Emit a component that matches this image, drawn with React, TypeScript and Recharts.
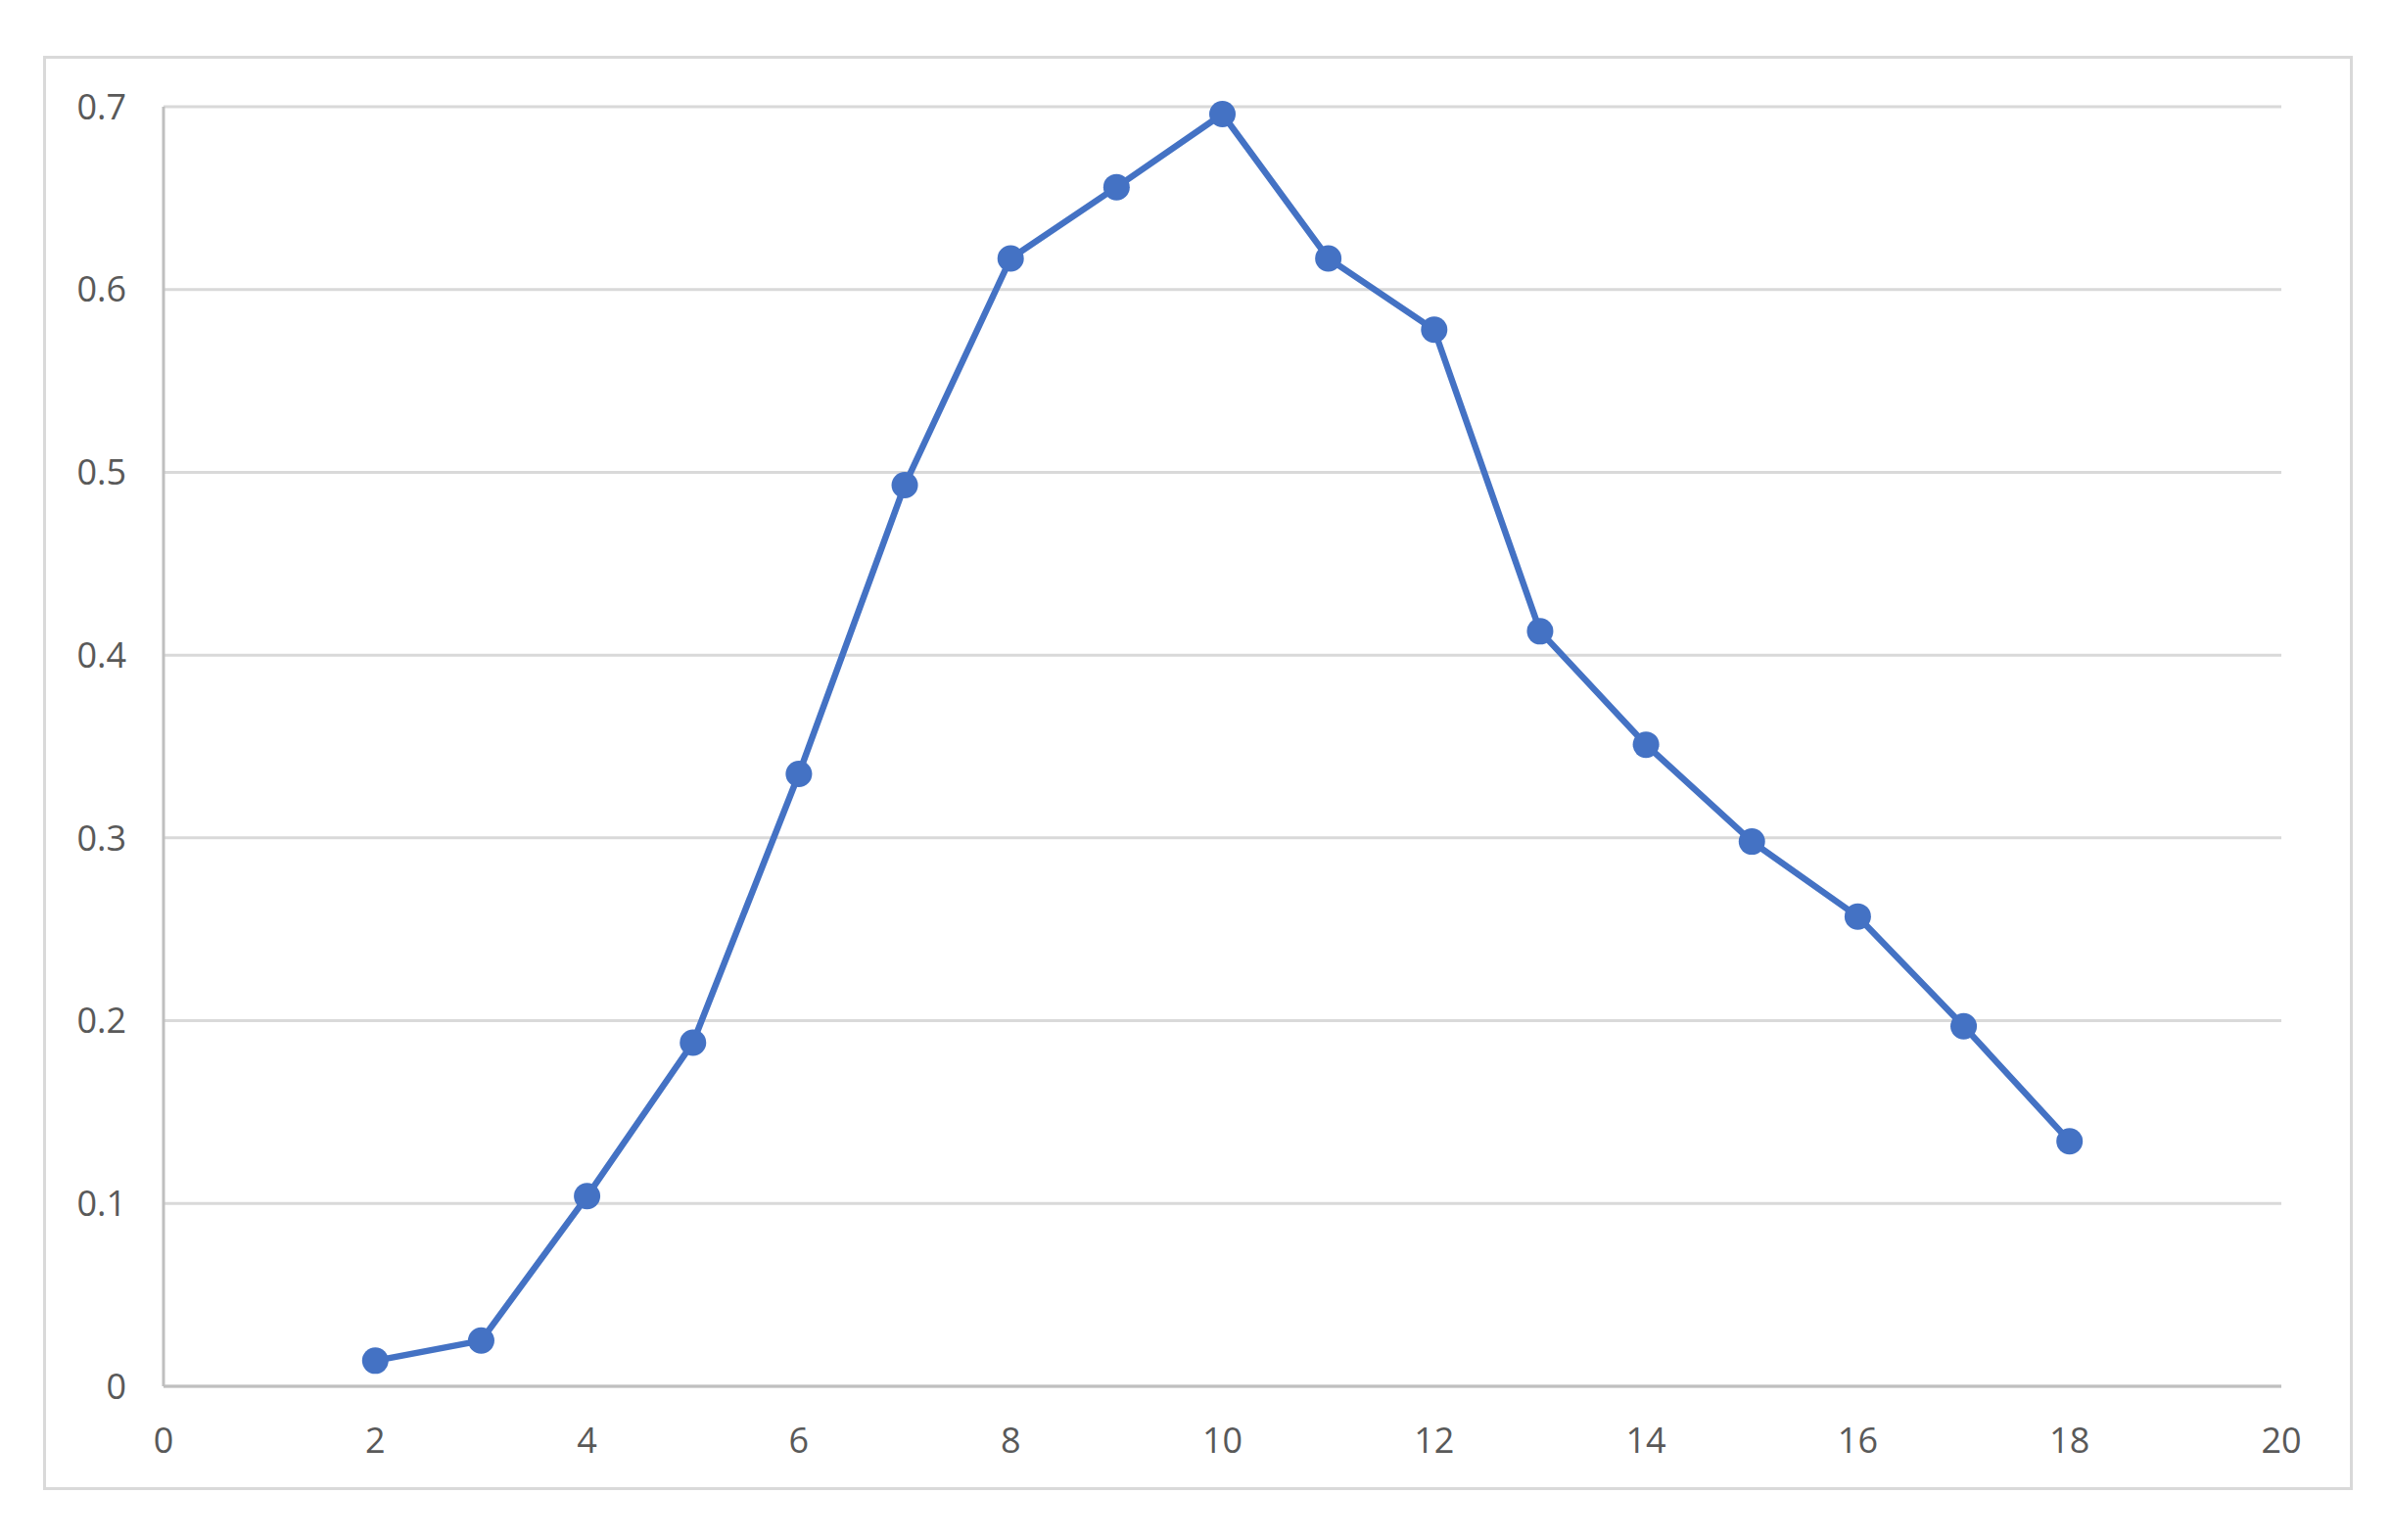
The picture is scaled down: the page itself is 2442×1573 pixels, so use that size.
import { LineChart, Line, XAxis, YAxis, CartesianGrid } from 'recharts';

// x values and the measured series
const xValues = [2, 3, 4, 5, 6, 7, 8, 9, 10, 11, 12, 13, 14, 15, 16, 17, 18];
const yValues = [
  0.014, 0.025, 0.104, 0.188, 0.335, 0.493, 0.617, 0.656, 0.696, 0.617, 0.578, 0.413, 0.351, 0.298,
  0.257, 0.197, 0.134,
];

const xTicks = [0, 2, 4, 6, 8, 10, 12, 14, 16, 18, 20];
const yTicks = [0, 0.1, 0.2, 0.3, 0.4, 0.5, 0.6, 0.7];

const data = xValues.map((x, i) => ({ x, y: yValues[i] }));

const BLUE = '#4472C4';
const tickStyle = { fontSize: 36, fill: '#595959', fontFamily: '"Open Sans", sans-serif' };

export default function App() {
  return (
    <div
      style={{
        position: 'absolute',
        left: 0,
        top: 0,
        width: 2442,
        height: 1573,
        background: '#fff',
      }}
    >
      {/* chart frame */}
      <div
        style={{
          position: 'absolute',
          left: 44,
          top: 57,
          width: 2359,
          height: 1465,
          border: '3px solid #d9d9d9',
          boxSizing: 'border-box',
        }}
      />
      <div style={{ position: 'absolute', left: 0, top: 0 }}>
        <LineChart
          width={2442}
          height={1573}
          data={data}
          margin={{ top: 109, right: 112, left: 47, bottom: 97 }}
        >
          <CartesianGrid vertical={false} stroke="#d9d9d9" strokeWidth={3} />
          <XAxis
            dataKey="x"
            type="number"
            domain={[0, 20]}
            ticks={xTicks}
            height={60}
            tickLine={false}
            tickSize={0}
            tickMargin={42}
            axisLine={{ stroke: '#bfbfbf', strokeWidth: 3 }}
            tick={tickStyle}
            interval={0}
          />
          <YAxis
            type="number"
            domain={[0, 0.7]}
            ticks={yTicks}
            width={120}
            tickLine={false}
            tickSize={0}
            tickMargin={38}
            axisLine={{ stroke: '#bfbfbf', strokeWidth: 3 }}
            tick={tickStyle}
            interval={0}
          />
          <Line
            dataKey="y"
            type="linear"
            stroke={BLUE}
            strokeWidth={6.5}
            dot={{ r: 13.5, fill: BLUE, stroke: 'none' }}
            activeDot={false}
            isAnimationActive={false}
          />
        </LineChart>
      </div>
    </div>
  );
}
